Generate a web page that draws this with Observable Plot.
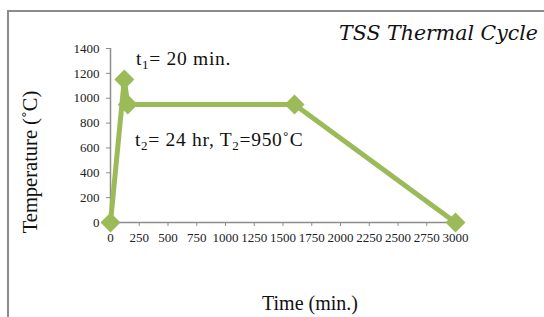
<!DOCTYPE html>
<html><head><meta charset="utf-8">
<script src="https://cdn.jsdelivr.net/npm/d3@7"></script>
<script src="https://cdn.jsdelivr.net/npm/@observablehq/plot@0.6"></script>
<style>
body{margin:0;background:#fff;}
#wrap{position:relative;width:544px;height:317px;overflow:hidden;}
#border{position:absolute;left:7px;top:10px;width:560px;height:340px;border-left:2px solid #8c8c8c;border-top:2px solid #8c8c8c;}
#wrap svg{position:absolute;left:0;top:0;}
</style></head>
<body><div id="wrap"><div id="border"></div></div>
<script>
const times = [0, 120, 150, 1600, 3000];
const temps = [0, 1150, 950, 950, 0];
const xTicks = [0,250,500,750,1000,1250,1500,1750,2000,2250,2500,2750,3000];
const yTicks = [0,200,400,600,800,1000,1200,1400];
const title = "TSS Thermal Cycle";
const xLabel = "Time (min.)";
const yLabel = "Temperature (˚C)";
const data = times.map((t,i)=>({t, T: temps[i]}));
const green = "#9bbb59";
const font = "'Liberation Serif', 'Times New Roman', serif";

const plot = Plot.plot({
  width: 544, height: 317,
  marginLeft: 110, marginRight: 89, marginTop: 48, marginBottom: 95,
  style: {fontFamily: font, background: "transparent", overflow: "visible"},
  x: {domain: [0, 3000], axis: null},
  y: {domain: [0, 1400], axis: null},
  marks: [
    Plot.ruleY([0], {stroke: "#8c8c8c", strokeWidth: 1.5}),
    Plot.ruleX([0], {stroke: "#8c8c8c", strokeWidth: 1.5}),
    Plot.axisX({ticks: xTicks, tickSize: 4, tickPadding: 2, stroke: "#8c8c8c", tickFormat: d=>String(d), label: null}),
    Plot.axisY({ticks: yTicks, tickSize: 4, tickPadding: 7, stroke: "#8c8c8c", tickFormat: d=>String(d), label: null}),
    Plot.line(data, {x: "t", y: "T", stroke: green, strokeWidth: 5}),
    Plot.dot(data, {x: "t", y: "T", symbol: "diamond2", r: 9, fill: green, stroke: "none"})
  ]
});
document.getElementById("wrap").appendChild(plot);

const sx = plot.scale("x"), sy = plot.scale("y");
const svg = d3.select(plot);
svg.selectAll("g[aria-label='x-axis tick label'], g[aria-label='y-axis tick label']")
  .attr("fill","#222").attr("font-size", 13).attr("font-family", font)
  .selectAll("text").attr("font-size", 13).attr("font-family", font);
svg.selectAll("g[aria-label='x-axis tick label'] text").attr("dy", "0.3em");

function annot(x, y, parts){
  const t = svg.append("text").attr("x", sx.apply(x)).attr("y", sy.apply(y))
    .attr("text-anchor","start").attr("letter-spacing", 0.7)
    .attr("font-family", font).attr("font-size", 19.5).attr("fill","#111");
  let prevSub = false;
  parts.forEach(([s, sub]) => {
    const ts = t.append("tspan").text(s);
    if (sub) { ts.attr("font-size", 13).attr("dy", 4); prevSub = true; }
    else if (prevSub) { ts.attr("dy", -4); prevSub = false; }
  });
}
annot(226, 1263, [["t",0],["1",1],["= 20 min.",0]]);
annot(217, 615, [["t",0],["2",1],["= 24 hr, T",0],["2",1],["=950˚C",0]]);

svg.append("text").attr("x", 538).attr("y", 40).attr("text-anchor","end")
  .attr("font-family","'DejaVu Serif', serif").attr("font-style","italic")
  .attr("font-size", 20.5).attr("fill","#111").text(title);
svg.append("text").attr("x", 310).attr("y", 310).attr("text-anchor","middle")
  .attr("font-family", font).attr("font-size", 20).attr("fill","#111").text(xLabel);
svg.append("text").attr("transform","translate(37,162) rotate(-90)").attr("text-anchor","middle")
  .attr("font-family", font).attr("font-size", 20.5).attr("fill","#111").text(yLabel);
</script></body></html>
